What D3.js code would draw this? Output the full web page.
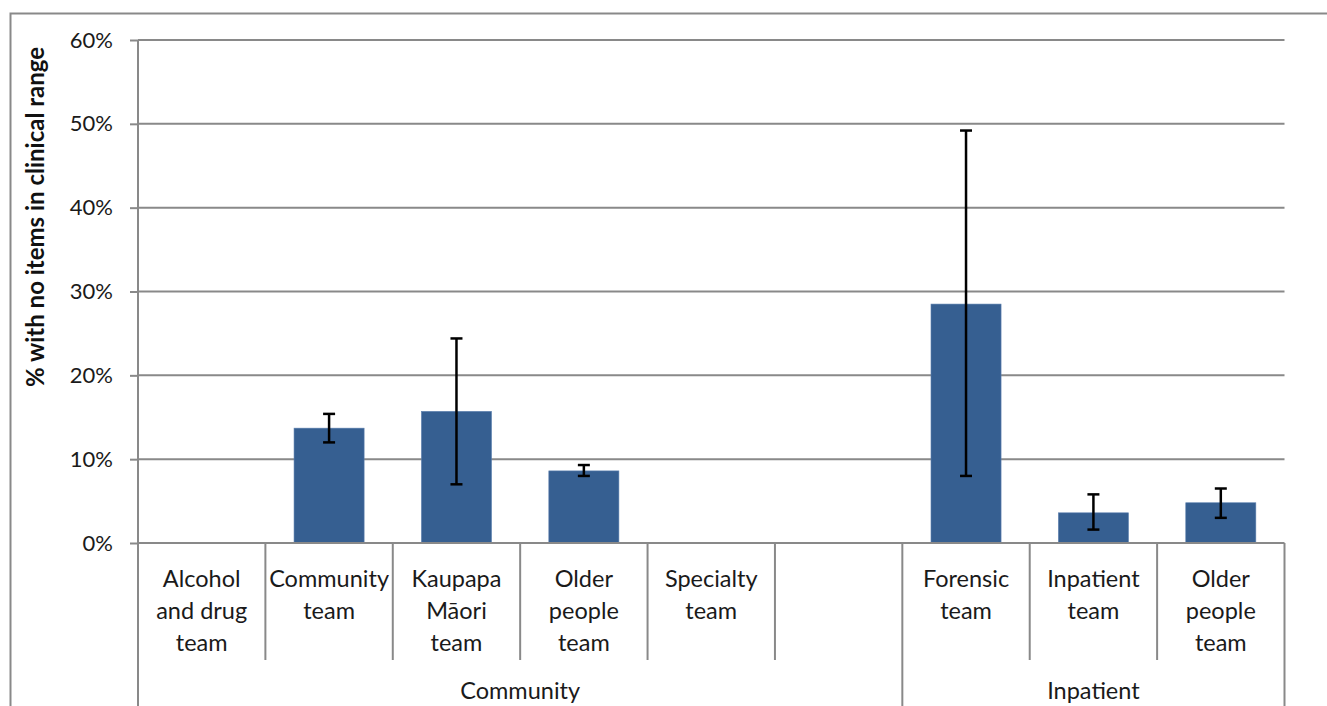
<!DOCTYPE html>
<html><head><meta charset="utf-8">
<script src="https://cdn.jsdelivr.net/npm/d3@7/dist/d3.min.js"></script>
<style>body{margin:0;background:#fff;}svg{display:block;font-family:Lato,"Open Sans",sans-serif;}</style>
</head><body>
<svg id="c" width="1327" height="706"></svg>
<script>
const categories = ["Alcohol and drug team","Community team","Kaupapa Māori team","Older people team","Specialty team","","Forensic team","Inpatient team","Older people team"];
const groups = ["Community","Community","Community","Community","Community","Community","Inpatient","Inpatient","Inpatient"];
const values = [null,13.7,15.7,8.6,null,null,28.5,3.6,4.8];
const lower  = [null,12.0,7.0,8.0,null,null,8.0,1.6,3.0];
const upper  = [null,15.4,24.4,9.3,null,null,49.2,5.8,6.5];
const labelLines = [["Alcohol","and drug","team"],["Community","team"],["Kaupapa","Māori","team"],["Older","people","team"],["Specialty","team"],[],["Forensic","team"],["Inpatient","team"],["Older","people","team"]];
const groupNames = ["Community","Inpatient"];
const yTicks = [0,10,20,30,40,50,60];

const svg = d3.select("#c");
const L=138, R=1284.5, T=40, B=543;
const ids = categories.map((c,i)=>i);
const x = d3.scaleBand().domain(ids).range([L,R]).paddingInner(0.45).paddingOuter(0.225);
const slot = d3.scaleBand().domain(ids).range([L,R]).padding(0);
const y = d3.scaleLinear().domain([0,60]).range([B,T]);
const grey="#898989";
const txt="#1a1a1a";

// outer frame
svg.append("rect").attr("x",10.5).attr("y",13.5).attr("width",1340).attr("height",720).attr("fill","none").attr("stroke",grey).attr("stroke-width",2);

// gridlines
svg.append("g").selectAll("line").data(yTicks.filter(d=>d>0)).join("line")
  .attr("x1",L).attr("x2",R).attr("y1",d=>y(d)).attr("y2",d=>y(d)).attr("stroke",grey).attr("stroke-width",2);

// y axis
const ya = svg.append("g").attr("transform",`translate(${L},0)`)
  .call(d3.axisLeft(y).tickValues(yTicks).tickFormat(d=>d+"%").tickSize(8).tickSizeOuter(0));
ya.select(".domain").remove();
ya.selectAll(".tick line").attr("stroke",grey).attr("stroke-width",2);
ya.selectAll(".tick text").attr("font-size",22).attr("fill",txt).attr("x",-25).attr("font-family","Lato");
svg.append("line").attr("x1",L).attr("x2",L).attr("y1",T).attr("y2",706).attr("stroke",grey).attr("stroke-width",2);

// bars
const data = ids.map(i=>({i, v:values[i], lo:lower[i], hi:upper[i]})).filter(d=>d.v!=null);
svg.append("g").selectAll("rect").data(data).join("rect")
  .attr("x",d=>x(d.i)).attr("width",x.bandwidth()).attr("y",d=>y(d.v)).attr("height",d=>y(0)-y(d.v))
  .attr("fill","#365f91").attr("stroke","#5b7fae").attr("stroke-width",0.6);

// baseline
svg.append("line").attr("x1",L).attr("x2",R).attr("y1",B).attr("y2",B).attr("stroke",grey).attr("stroke-width",2);

// category dividers
const bounds = ids.slice(1).map(i=>slot(i));
svg.append("g").selectAll("line").data(bounds).join("line")
  .attr("x1",d=>d).attr("x2",d=>d).attr("y1",B).attr("y2",(d,k)=> groups[k]!==groups[k+1] ? 706 : 660)
  .attr("stroke",grey).attr("stroke-width",2);
svg.append("line").attr("x1",R).attr("x2",R).attr("y1",B).attr("y2",706).attr("stroke",grey).attr("stroke-width",2);

// error bars
const eb = svg.append("g").attr("stroke","#000").attr("stroke-width",2.5);
data.forEach(d=>{
  const cx = x(d.i)+x.bandwidth()/2;
  eb.append("line").attr("x1",cx).attr("x2",cx).attr("y1",y(d.lo)).attr("y2",y(d.hi));
  [d.lo,d.hi].forEach(v=>eb.append("line").attr("x1",cx-6).attr("x2",cx+6).attr("y1",y(v)).attr("y2",y(v)));
});

// category labels
ids.forEach(i=>{
  const cx = slot(i)+slot.bandwidth()/2;
  const t = svg.append("text").attr("text-anchor","middle").attr("font-size",23.5).attr("fill",txt);
  labelLines[i].forEach((ln,k)=>t.append("tspan").attr("x",cx).attr("y",587+k*32).text(ln));
});

// group labels
groupNames.forEach(g=>{
  const idx = ids.filter(i=>groups[i]===g);
  const x0 = slot(idx[0]), x1 = slot(idx[idx.length-1])+slot.bandwidth();
  svg.append("text").attr("x",(x0+x1)/2).attr("y",699).attr("text-anchor","middle").attr("font-size",23.5).attr("fill",txt).text(g);
});

// y title
svg.append("text").attr("transform",`translate(44,${(T+394)/2}) rotate(-90)`).attr("text-anchor","middle")
  .attr("font-size",24).attr("font-weight","bold").attr("fill","#111").text("% with no items in clinical range");
</script>
</body></html>
